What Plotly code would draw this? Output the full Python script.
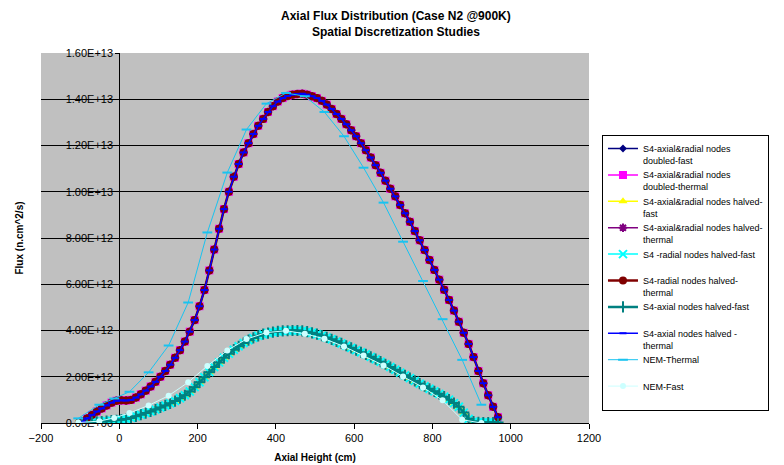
import plotly.graph_objects as go

# ---------------- data (flux values in units of 1E+12 n.cm^2/s) ----------------
height_s4 = [-95, -82.5, -70, -57.5, -45, -32.5, -20, -7.5, 5, 17.5,
             30, 42.5, 55, 67.5, 80, 92.5, 105, 117.5, 130, 142.5,
             155, 167.5, 180, 192.5, 205, 217.5, 230, 242.5, 255, 267.5,
             280, 292.5, 305, 317.5, 330, 342.5, 355, 367.5, 380, 392.5,
             405, 417.5, 430, 442.5, 455, 467.5, 480, 492.5, 505, 517.5,
             530, 542.5, 555, 567.5, 580, 592.5, 605, 617.5, 630, 642.5,
             655, 667.5, 680, 692.5, 705, 717.5, 730, 742.5, 755, 767.5,
             780, 792.5, 805, 817.5, 830, 842.5, 855, 867.5, 880, 892.5,
             905, 917.5, 930, 942.5, 955, 967.5]

thermal_s4 = [0.05, 0.2, 0.35, 0.5, 0.63, 0.76, 0.88, 0.96, 0.98, 0.97,
              1.0, 1.1, 1.24, 1.4, 1.58, 1.78, 2.0, 2.25, 2.52, 2.82,
              3.15, 3.52, 3.95, 4.45, 5.05, 5.75, 6.6, 7.5, 8.4, 9.25,
              10.0, 10.65, 11.2, 11.7, 12.1, 12.5, 12.85, 13.15, 13.45, 13.7,
              13.9, 14.05, 14.14, 14.2, 14.23, 14.24, 14.2, 14.13, 14.05, 13.93,
              13.77, 13.58, 13.36, 13.15, 12.92, 12.66, 12.4, 12.1, 11.8, 11.48,
              11.15, 10.82, 10.48, 10.13, 9.8, 9.43, 9.07, 8.7, 8.3, 7.9,
              7.48, 7.05, 6.62, 6.2, 5.76, 5.32, 4.86, 4.38, 3.9, 3.42,
              2.85, 2.25, 1.72, 1.2, 0.7, 0.25]

fast_s4 = [0.0, 0.02, 0.04, 0.05, 0.06, 0.08, 0.1, 0.12, 0.14, 0.17,
           0.22, 0.29, 0.36, 0.43, 0.5, 0.58, 0.67, 0.76, 0.85, 0.95,
           1.07, 1.2, 1.36, 1.55, 1.76, 1.98, 2.2, 2.42, 2.62, 2.82,
           3.0, 3.17, 3.32, 3.46, 3.58, 3.68, 3.77, 3.84, 3.89, 3.93,
           3.96, 3.98, 3.99, 4.0, 4.0, 3.98, 3.95, 3.9, 3.84, 3.78,
           3.7, 3.62, 3.53, 3.44, 3.34, 3.25, 3.15, 3.06, 2.97, 2.86,
           2.76, 2.65, 2.54, 2.42, 2.3, 2.18, 2.06, 1.94, 1.82, 1.7,
           1.59, 1.48, 1.37, 1.26, 1.14, 1.01, 0.86, 0.7, 0.45, 0.18,
           0.06, 0.03, 0.02, 0.02, 0.02, 0.02]

height_nem = [-105, -51, -13, 26, 75, 126, 176, 225, 276, 325, 376,
              426, 474, 524, 574, 624, 675, 725, 776, 826, 876, 925]
nem_thermal = [0.2, 0.79, 1.06, 1.35, 2.19, 3.35, 5.21, 8.24, 10.83, 12.69, 13.81,
               14.27, 14.13, 13.45, 12.40, 11.04, 9.53, 7.84, 6.14, 4.49, 2.73, 0.79]
nem_fast = [0.02, 0.08, 0.22, 0.43, 0.76, 1.18, 1.76, 2.47, 3.14, 3.63, 3.91,
            3.99, 3.86, 3.64, 3.31, 2.92, 2.49, 2.01, 1.54, 0.98, 0.14, 0.0]

series_names = [
    "S4-axial&amp;radial nodes<br>doubled-fast",
    "S4-axial&amp;radial nodes<br>doubled-thermal",
    "S4-axial&amp;radial nodes halved-<br>fast",
    "S4-axial&amp;radial nodes halved-<br>thermal",
    "S4 -radial nodes halved-fast<br> ",
    "S4-radial nodes halved-<br>thermal",
    "S4-axial nodes halved-fast<br> ",
    "S4-axial nodes halved -<br>thermal",
    "NEM-Thermal<br> ",
    "NEM-Fast<br> ",
]

x_ticks = [-200, 0, 200, 400, 600, 800, 1000, 1200]
y_ticks = [0, 2, 4, 6, 8, 10, 12, 14, 16]
y_tick_text = ["0.00E+00", "2.00E+12", "4.00E+12", "6.00E+12", "8.00E+12",
               "1.00E+13", "1.20E+13", "1.40E+13", "1.60E+13"]

# ---------------- styles ----------------
FONT = "Liberation Sans, Arial, sans-serif"
styles = [
    dict(color="#000080", symbol="diamond", size=6, lw=1.5),
    dict(color="#FF00FF", symbol="square", size=8, lw=1.5),
    dict(color="#FFFF00", symbol="triangle-up", size=8, lw=1.5),
    dict(color="#800080", symbol="asterisk-open", size=7, lw=1.5),
    dict(color="#00FFFF", symbol="x-thin-open", size=8, lw=1.5),
    dict(color="#800000", symbol="circle", size=8, lw=2.5),
    dict(color="#008080", symbol="cross-thin-open", size=8, lw=2.5),
    dict(color="#0000FF", symbol="line-ew-open", size=5, lw=1.5),
    dict(color="#19C3F0", symbol="line-ew-open", size=7, lw=1),
    dict(color="#CCFFFF", symbol="circle", size=6, lw=1),
]
xs = [height_s4] * 8 + [height_nem, height_nem]
ys = [fast_s4, thermal_s4, fast_s4, thermal_s4, fast_s4, thermal_s4,
      fast_s4, thermal_s4, nem_thermal, nem_fast]
axes = ["y"] * 9 + ["y2"]

fig = go.Figure()
for name, st, x, y, ax in zip(series_names, styles, xs, ys, axes):
    open_sym = st["symbol"].endswith("-open")
    marker = dict(symbol=st["symbol"], size=st["size"], color=st["color"],
                  line=dict(color=st["color"], width=2 if open_sym else 0))
    fig.add_trace(go.Scatter(
        x=x, y=y, name=name, mode="lines+markers", yaxis=ax,
        line=dict(color=st["color"], width=st["lw"]),
        marker=marker,
    ))

fig.update_layout(
    width=784, height=465,
    margin=dict(l=41, r=195, t=53, b=42),
    paper_bgcolor="white",
    plot_bgcolor="#C0C0C0",
    font=dict(family=FONT, color="black", size=11),
    title=dict(
        text="<b>Axial Flux Distribution (Case N2 @900K)<br>Spatial Discretization Studies</b>",
        x=0.505, xref="container", xanchor="center",
        y=0.957, yref="container", yanchor="top",
        font=dict(family=FONT, size=12, color="black"),
    ),
    xaxis=dict(
        range=[-200, 1200], tickvals=x_ticks, ticks="outside", ticklen=5,
        tickcolor="black", showline=True, linecolor="black", linewidth=1,
        showgrid=False, zeroline=False, tickfont=dict(size=11), automargin=False,
        title=dict(text="<b>Axial Height (cm)</b>", font=dict(size=10), standoff=10),
    ),
    yaxis=dict(
        range=[0, 16], anchor="free", position=200 / 1400, side="left",
        tickvals=y_ticks, ticktext=y_tick_text,
        ticks="outside", ticklen=4, tickcolor="black",
        showline=True, linecolor="black", linewidth=1,
        showgrid=True, gridcolor="black", gridwidth=1, zeroline=False,
        tickfont=dict(size=11), layer="below traces", automargin=False,
    ),
    yaxis2=dict(
        overlaying="y", matches="y", anchor="x", side="left",
        showticklabels=False, ticks="", showgrid=False, zeroline=False,
        showline=False, automargin=False,
        title=dict(text="<b>Flux (n.cm^2/s)</b>", font=dict(size=10), standoff=14),
    ),
    legend=dict(
        x=1.0237, xanchor="left", y=0.405, yanchor="middle",
        bgcolor="white", bordercolor="#000000", borderwidth=1,
        font=dict(family=FONT, size=9, color="black"),
        valign="top", tracegroupgap=0,
    ),
    showlegend=True,
)

fig.write_html("out.html")
